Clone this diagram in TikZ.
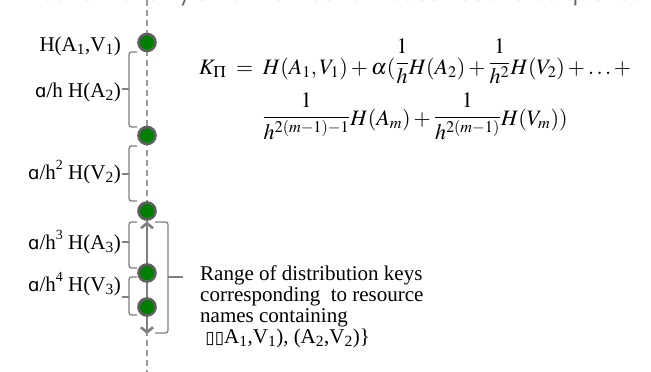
\documentclass[tikz,border=0pt]{standalone}
\usepackage{mathptmx}
\usepackage{fontspec}
\setmainfont{Liberation Serif}
\newfontfamily\dvsans{DejaVu Sans}
\newfontfamily\popfont{Poppins}
\usetikzlibrary{arrows.meta}
\definecolor{dotgreen}{HTML}{008000}
\definecolor{rimgray}{HTML}{5F5F5F}
\definecolor{linegray}{HTML}{9A9A9A}
\definecolor{bracegray}{HTML}{7F7F7F}
\definecolor{toptext}{HTML}{666666}
\newcommand\rfrac[3]{\raisebox{#1}{$\displaystyle\frac{#2}{#3}$}}
\newcommand\sansalpha{{\dvsans\fontsize{18}{20}\selectfont ɑ}}
\newcommand\smallsup[1]{\raisebox{0.45em}{\fontsize{14}{16}\selectfont #1}}
\begin{document}
\begin{tikzpicture}[x=1pt,y=-1pt,
  dot/.style={circle,minimum size=17pt,inner sep=0pt,fill=dotgreen,draw=rimgray,line width=2.6pt},
  axisline/.style={draw=linegray,line width=1.3pt,dash pattern=on 6pt off 4pt},
  bracket/.style={draw=bracegray,line width=1.3pt,rounded corners=2.5pt},
  lbl/.style={anchor=base east,inner sep=0pt,font=\fontsize{21}{24}\selectfont},
  rangearrow/.style={draw=bracegray,line width=2.6pt,{Straight Barb[length=5pt,width=12pt]}-{Straight Barb[length=5pt,width=12pt]}},
  eqline/.style={anchor=base,inner sep=0pt,font=\fontsize{22}{26}\selectfont}]
\useasboundingbox (0,0) rectangle (651,372);
\clip (0,0) rectangle (651,372);

% clipped text at the top
\node[anchor=base east,inner sep=0pt,text=toptext,font=\popfont\fontsize{21}{24}\selectfont] (top) at (645,1) {means that only small number of nodes need to be queried};

% axis
\coordinate (axtop) at (147,0);
\coordinate (axbot) at (147,372);
\draw[axisline] (axtop) -- (axbot);

% range arrow
\coordinate (arrtop) at (147,221.5);
\coordinate (arrbot) at (147,334);
\draw[rangearrow] (arrtop) -- (arrbot);

% nodes on the ring
\node[dot] (c1) at (147,42.5) {};
\node[dot] (c2) at (147,135.5) {};
\node[dot] (c3) at (147,211) {};
\node[dot] (c4) at (147,273) {};
\node[dot] (c5) at (147,307) {};

% left brackets
\draw[bracket] (137,52) -- (129,52) -- (129,127) -- (137,127);
\draw[bracket] (129,89) -- (122,89);
\draw[bracket] (137,146) -- (129,146) -- (129,201) -- (137,201);
\draw[bracket] (129,174) -- (122,174);
\draw[bracket] (137,222) -- (129,222) -- (129,268) -- (137,268);
\draw[bracket] (129,242) -- (122,242);
\draw[bracket] (137,277) -- (129,277) -- (129,315) -- (137,315);
\draw[bracket] (129,297) -- (122,297);

% right bracket
\draw[bracket] (155,222) -- (168,222) -- (168,333) -- (155,333);
\draw[bracket] (168,277) -- (183,277);

% labels
\node[lbl] (l1) at (121,51) {H(A\textsubscript{1},V\textsubscript{1})};
\node[lbl] (l2) at (121,97) {\sansalpha/h H(A\textsubscript{2})};
\node[lbl] (l3) at (121,179) {\sansalpha/h\smallsup{2} H(V\textsubscript{2})};
\node[lbl] (l4) at (121,249) {\sansalpha/h\smallsup{3} H(A\textsubscript{3})};
\node[lbl] (l5) at (121,291) {\sansalpha/h\smallsup{4} H(V\textsubscript{3})};

% range text
\node[anchor=north west,inner sep=0pt,align=left,font=\fontsize{21}{20.7}\selectfont] (rangetext) at (200,266)
 {Range of distribution keys\\
  corresponding~ to resource\\
  names containing\\
  \ {\dvsans\fontsize{17}{20}\selectfont ▯▯}A\textsubscript{1},V\textsubscript{1}), (A\textsubscript{2},V\textsubscript{2})\}};

% formula
\node[eqline] (eqA) at (415,74)
 {$K_{\Pi}\;=\;H(A_1,V_1)+\alpha(\rfrac{0.25em}{1}{h}H(A_2)+\rfrac{0.25em}{1}{h^2}H(V_2)+\ldots+$};
\node[eqline] (eqB) at (415,125)
 {$\rfrac{0.1em}{1}{h^{2(m-1)-1}}H(A_m)+\rfrac{0.1em}{1}{h^{2(m-1)}}H(V_m))$};
\end{tikzpicture}
\end{document}
